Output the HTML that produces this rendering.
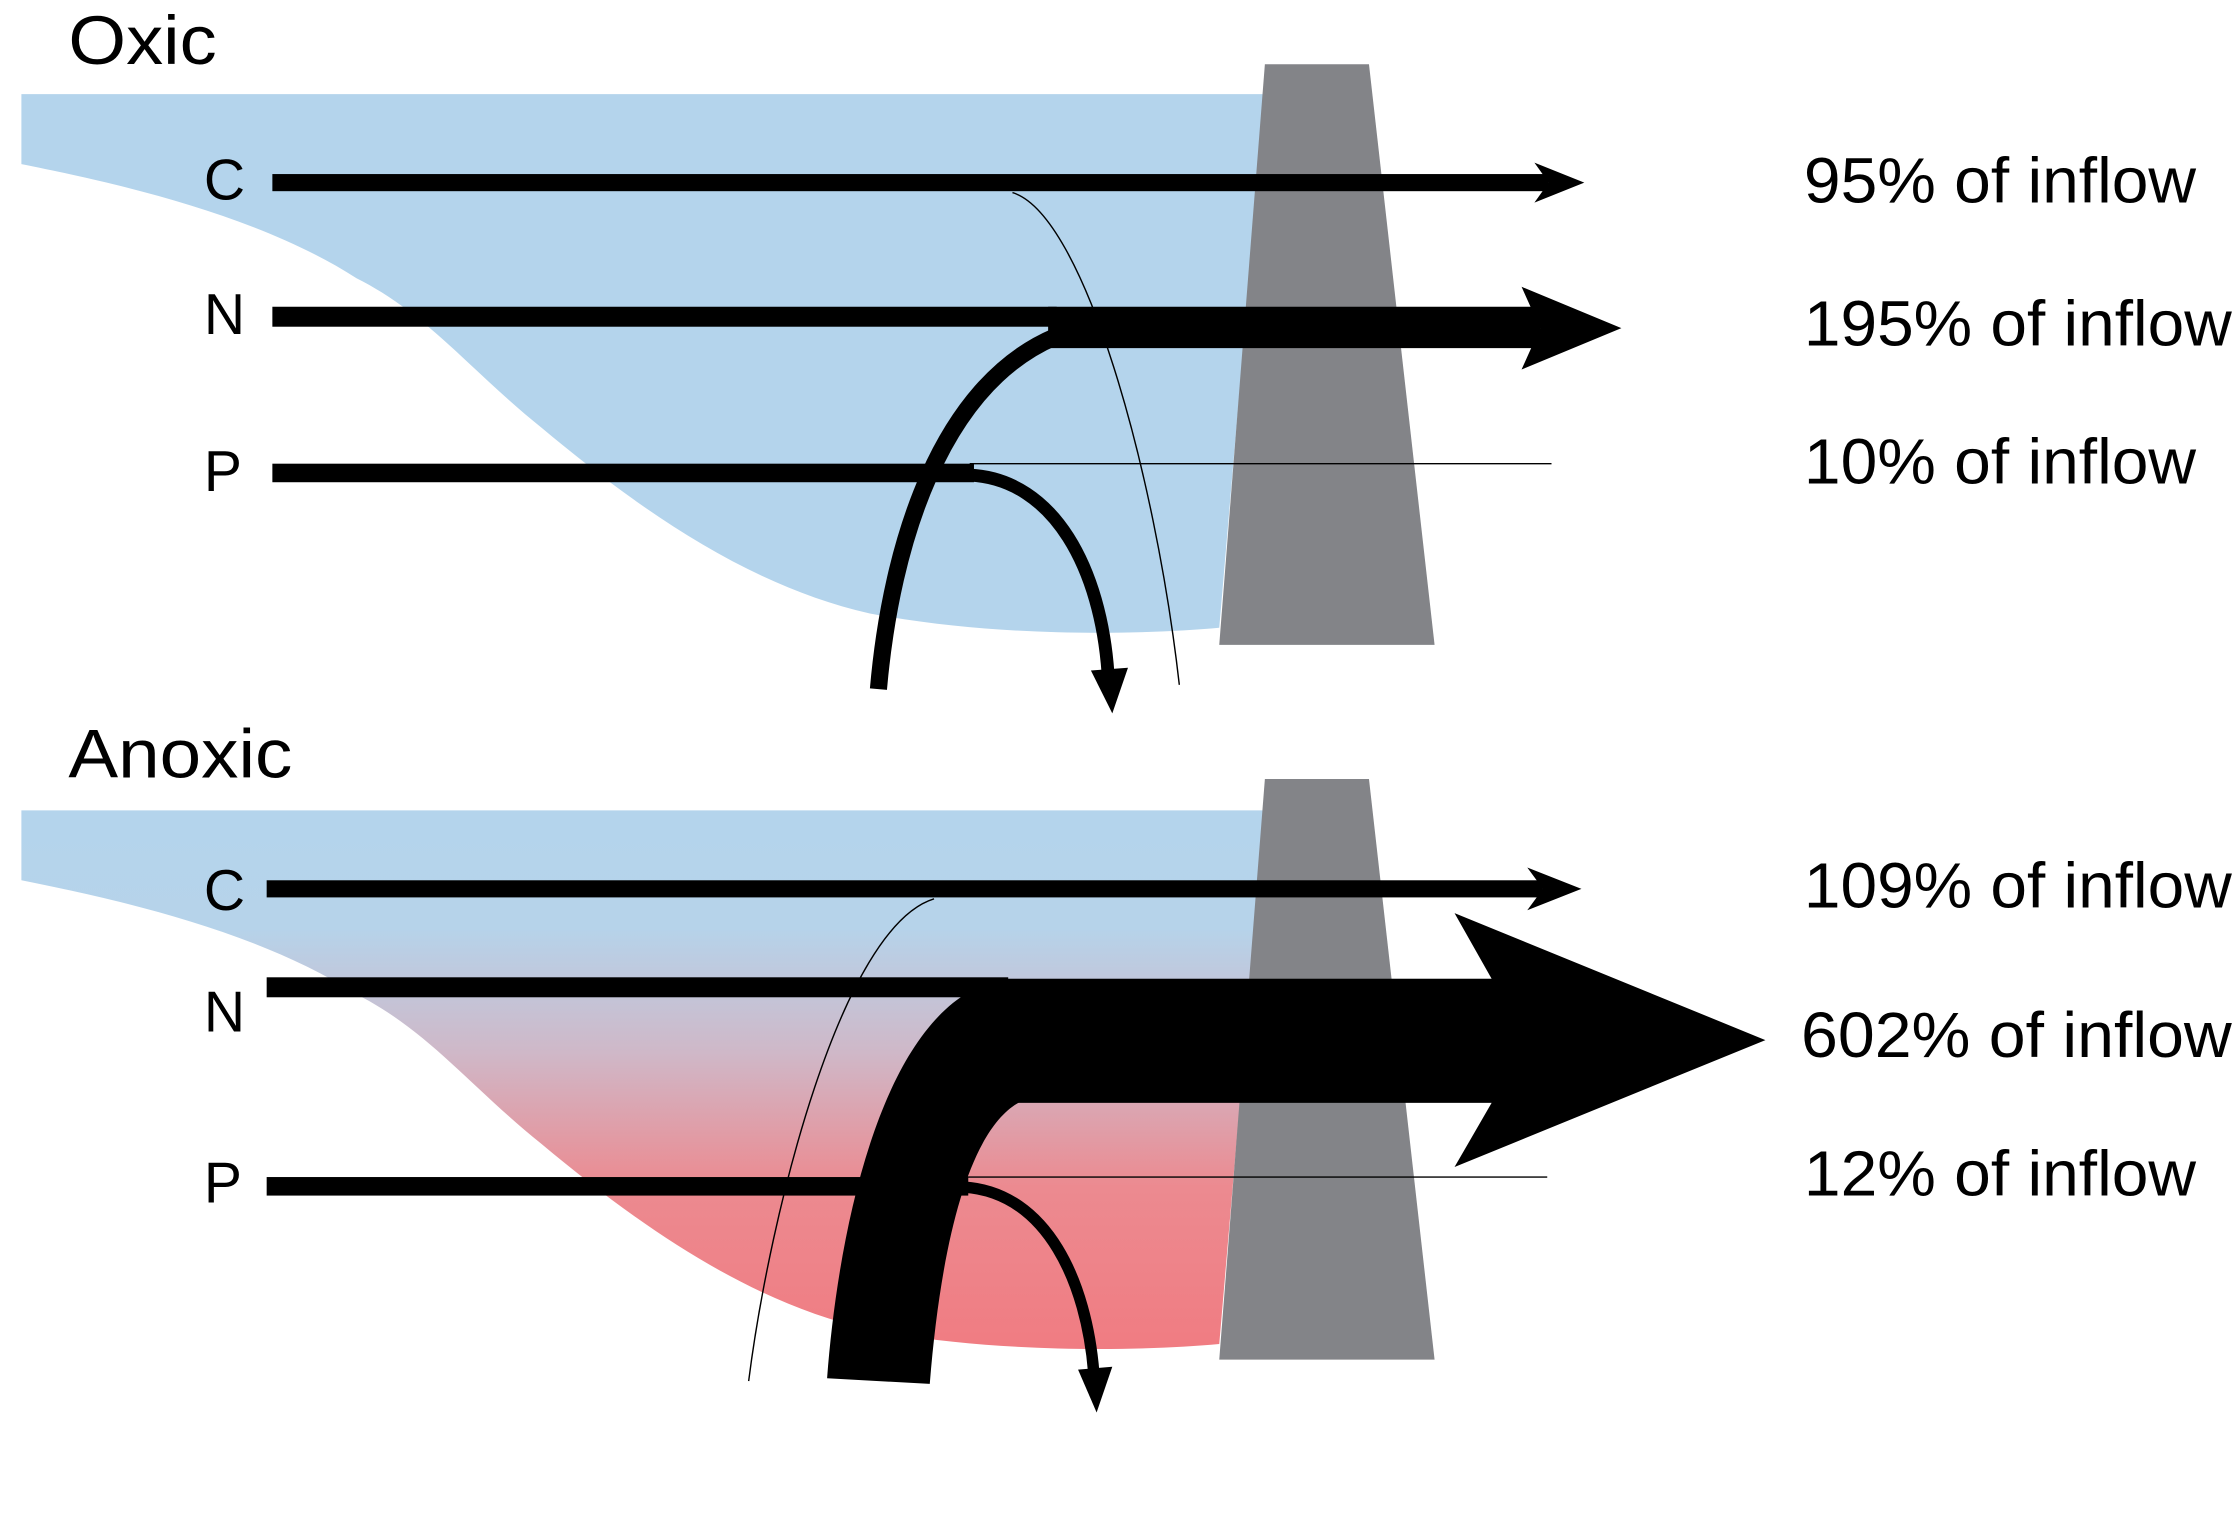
<!DOCTYPE html>
<html><head><meta charset="utf-8"><style>
html,body{margin:0;padding:0;background:#fff;}
svg{display:block;}
text{font-family:"Liberation Sans",sans-serif;fill:#000;}
</style></head><body>
<svg width="2236" height="1538" viewBox="0 0 1568 1078" preserveAspectRatio="none">
<defs>
<linearGradient id="anox" x1="0" y1="568" x2="0" y2="945" gradientUnits="userSpaceOnUse">
<stop offset="0" stop-color="#b4d4ec"/>
<stop offset="0.22" stop-color="#b6d3ea"/>
<stop offset="0.45" stop-color="#cfb8c8"/>
<stop offset="0.7" stop-color="#ec8a90"/>
<stop offset="1" stop-color="#f07c82"/>
</linearGradient>
</defs>
<rect width="1568" height="1078" fill="#fff"/>

<g>
<text x="48" y="45" font-size="48" textLength="104" lengthAdjust="spacingAndGlyphs">Oxic</text>
<path fill="#b4d4ec" d="M15,66 L887,66 L855,440 C800,445 700,447 610,430 C520,410 440,350 380,300 C330,260 300,220 250,195 C180,150 80,128 15,115 Z"/>
<polygon fill="#838488" points="887,45 960,45 1006,452 855,452"/>
<text x="143" y="140" font-size="40">C</text>
<text x="143" y="234" font-size="40">N</text>
<text x="143" y="344" font-size="40">P</text>
<g>
<rect x="191" y="122" width="895" height="12" fill="#000"/>
<polygon points="1076,114 1111,128 1076,142 1086,128" fill="#000"/>
<path d="M710,135 C760,150 810,330 827,480" fill="none" stroke="#000" stroke-width="1"/>
</g>
<g>
<rect x="191" y="215" width="550" height="14" fill="#000"/>
<rect x="735" y="215" width="345" height="29" fill="#000"/>
<polygon points="1067,201 1137,230 1067,259 1080,230" fill="#000"/>
<path d="M740,236 C660,270 625,380 616,483" fill="none" stroke="#000" stroke-width="12"/>
</g>
<g>
<rect x="191" y="325" width="492" height="13" fill="#000"/>
<line x1="680" y1="325" x2="1088" y2="325" stroke="#000" stroke-width="1"/>
<path d="M680,333 C740,336 772,400 777,472" fill="none" stroke="#000" stroke-width="9"/>
<polygon points="765,470 780,500 791,468" fill="#000"/>
</g>
<text x="1265" y="142" font-size="45" textLength="275" lengthAdjust="spacingAndGlyphs">95% of inflow</text>
<text x="1265" y="242" font-size="45" textLength="300" lengthAdjust="spacingAndGlyphs">195% of inflow</text>
<text x="1265" y="339" font-size="45" textLength="275" lengthAdjust="spacingAndGlyphs">10% of inflow</text>
</g>

<g>
<text x="48" y="545" font-size="48" textLength="157" lengthAdjust="spacingAndGlyphs">Anoxic</text>
<path fill="url(#anox)" d="M15,568 L887,568 L855,942 C800,947 700,949 610,932 C520,912 440,852 380,802 C330,762 300,722 250,697 C180,652 80,630 15,617 Z"/>
<polygon fill="#838488" points="887,546 960,546 1006,953 855,953"/>
<text x="143" y="638" font-size="40">C</text>
<text x="143" y="723" font-size="40">N</text>
<text x="143" y="843" font-size="40">P</text>
<g>
<rect x="187" y="617" width="895" height="12" fill="#000"/>
<polygon points="1071,608 1109,623 1071,638 1082,623" fill="#000"/>
<path d="M655,630 C590,650 540,850 525,968" fill="none" stroke="#000" stroke-width="1"/>
</g>
<g>
<rect x="187" y="685" width="520" height="14" fill="#000"/>
<rect x="700" y="686" width="348" height="87" fill="#000"/>
<polygon points="1020,640 1238,729 1020,818 1046,773 1046,686" fill="#000"/>
<path d="M705,686 C620,700 588,860 580,966 L652,970 C660,870 680,790 716,772 Z" fill="#000"/>
</g>
<g>
<rect x="187" y="825" width="492" height="13" fill="#000"/>
<line x1="678" y1="825" x2="1085" y2="825" stroke="#000" stroke-width="1"/>
<path d="M676,832 C735,836 762,900 767,962" fill="none" stroke="#000" stroke-width="8"/>
<polygon points="756,960 769,990 780,958" fill="#000"/>
</g>
<text x="1265" y="636" font-size="45" textLength="300" lengthAdjust="spacingAndGlyphs">109% of inflow</text>
<text x="1263" y="741" font-size="45" textLength="302" lengthAdjust="spacingAndGlyphs">602% of inflow</text>
<text x="1265" y="838" font-size="45" textLength="275" lengthAdjust="spacingAndGlyphs">12% of inflow</text>
</g>
</svg>
</body></html>
